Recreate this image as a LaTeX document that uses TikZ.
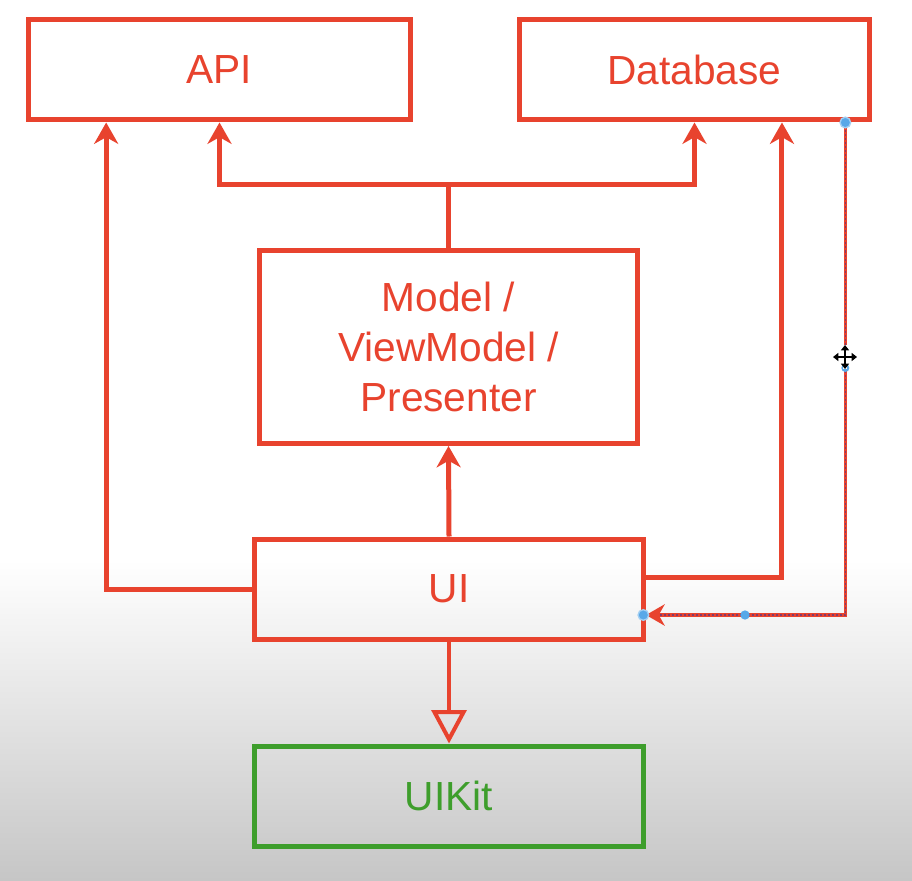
\documentclass[tikz,border=0pt]{standalone}
\usepackage{fontspec}
\setmainfont{Liberation Sans}
\usetikzlibrary{arrows.meta}
\definecolor{flowred}{RGB}{232,67,46}
\definecolor{kitgreen}{RGB}{62,158,44}
\definecolor{handleblue}{RGB}{88,168,232}
\definecolor{selmark}{RGB}{130,60,110}
\definecolor{fadegray}{RGB}{198,198,198}
\begin{document}
\begin{tikzpicture}[x=0.75pt,y=-0.75pt,
  box/.style={draw=flowred, line width=3.75pt, text=flowred,
    font=\fontsize{30.5}{37.5}\selectfont, align=center, inner sep=0pt},
  kitbox/.style={box, draw=kitgreen, text=kitgreen},
  link/.style={draw=flowred, line width=3.75pt,
    -{Stealth[length=16pt, width=18pt, inset=5pt]}},
  plain/.style={draw=flowred, line width=3.75pt},
  realize/.style={draw=flowred, line width=3pt,
    -{Triangle[open, length=25pt, width=26pt]}},
  selected/.style={draw=flowred, line width=2.4pt,
    -{Stealth[length=14pt, width=16pt, inset=4.5pt]}},
  selmarks/.style={draw=selmark, line width=0.8pt, dash pattern=on 1.5pt off 1.5pt},
  handle/.style={circle, fill=handleblue, inner sep=0pt, minimum size=7pt},
  endhandle/.style={circle, draw=handleblue!55, fill=handleblue, line width=1pt, inner sep=0pt, minimum size=8pt}
]
\useasboundingbox (0,0) rectangle (912,880);
\fill[white] (0,0) rectangle (912,880);
\shade[top color=white, bottom color=fadegray] (0,560) rectangle (912,880);

% boxes
\node[box, minimum width=286.5pt, minimum height=75pt] (api) at (219.5,70) {API};
\node[box, minimum width=262.5pt, minimum height=75pt] (db) at (694.5,70) {Database};
\node[box, minimum width=283.5pt, minimum height=144.75pt] (model) at (448.5,347) {Model /\\ViewModel /\\Presenter};
\node[box, minimum width=291.75pt, minimum height=75pt] (ui) at (449,589) {UI};
\node[kitbox, minimum width=291.75pt, minimum height=75pt] (uikit) at (449,796) {UIKit};

% Model fans out to API and Database
\coordinate (split) at (448.5,185);
\draw[plain] (model.north) -- (split);
\draw[link] (split) -| (api);
\draw[link] (split) -| (db);

% UI connections
\draw[link] (ui.north) -- (model.south);
\draw[link] (ui.west) -| ([xshift=-85pt]api.south);
\draw[link] ([yshift=9pt]ui.east) -| ([xshift=65.6pt]db.south);
\draw[realize] (ui.south) -- (uikit.north);

% selected connector with its edit handles
\coordinate (selstart) at ([xshift=-20pt]db.south east);
\coordinate (selend) at ([yshift=-19.5pt]ui.east);
\draw[selected] (selstart) |- (selend);
\draw[selmarks] (selstart) |- ([xshift=10pt]selend);
\node[endhandle] (h1) at (selstart) {};
\node[handle, minimum size=6pt] (h2) at (selstart |- 0,368) {};
\node[handle] (h3) at (745,615) {};
\node[endhandle] (h4) at ([xshift=-2pt]selend) {};

% move cursor
\begin{scope}[shift={(845,357)}]
  \draw[white, line width=3.2pt] (-12,0) -- (12,0) (0,-12) -- (0,12);
  \draw[black, line width=1.5pt, {Triangle[length=4pt,width=6pt]}-{Triangle[length=4pt,width=6pt]}] (-12,0) -- (12,0);
  \draw[black, line width=1.5pt, {Triangle[length=4pt,width=6pt]}-{Triangle[length=4pt,width=6pt]}] (0,-12) -- (0,12);
\end{scope}
\end{tikzpicture}
\end{document}
